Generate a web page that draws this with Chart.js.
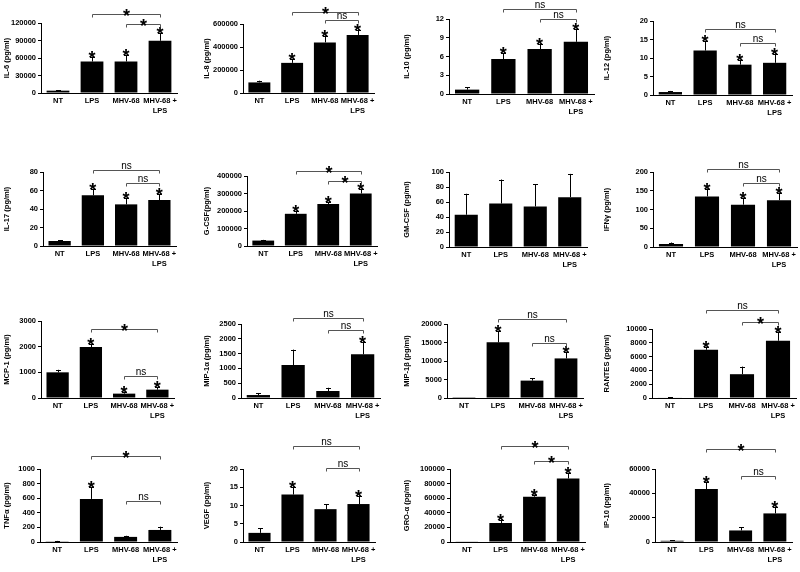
<!DOCTYPE html>
<html>
<head>
<meta charset="utf-8">
<script src="https://cdn.jsdelivr.net/npm/chart.js@4.4.1/dist/chart.umd.min.js"></script>
<style>
  html, body { margin: 0; padding: 0; background: #fff; }
  #grid { position: relative; width: 800px; height: 572px; background: #fff; }
  .cell { position: absolute; width: 200px; height: 143px; }
</style>
</head>
<body>
<div id="grid"></div>
<script>
// Groups on the x axis
const categories = ['NT', 'LPS', 'MHV-68', ['MHV-68 +', 'LPS']];

// Mean and error (pg/ml) per cytokine, order: NT, LPS, MHV-68, MHV-68 + LPS
const il6 = [4000, 54000, 54000, 89500],        il6Err = [1000, 8500, 11000, 13000];
const il8 = [92000, 262000, 440000, 505000],    il8Err = [15000, 32000, 60000, 45000];
const il10 = [0.7, 5.6, 7.2, 8.35],             il10Err = [0.35, 0.9, 0.8, 2.0];
const il12 = [0.8, 12.0, 8.2, 8.7],             il12Err = [0.3, 2.5, 1.3, 2.5];
const il17 = [5.4, 54.8, 45, 49.7],             il17Err = [0.8, 7, 7, 6];
const gcsf = [31000, 184000, 240000, 300000],   gcsfErr = [4000, 17000, 12000, 23000];
const gmcsf = [43, 58, 54, 66.5],               gmcsfErr = [28, 32, 30, 31];
const ifng = [8, 135, 113, 125],                ifngErr = [4, 21, 18, 20];
const mcp1 = [1000, 1987, 170, 325],            mcp1Err = [100, 117, 80, 90];
const mip1a = [100, 1115, 236, 1475],           mip1aErr = [70, 520, 110, 430];
const mip1b = [50, 15050, 4700, 10700],         mip1bErr = [0, 3000, 630, 1600];
const rantes = [80, 6990, 3450, 8300],          rantesErr = [30, 430, 1100, 1300];
const tnfa = [10, 590, 70, 165],                tnfaErr = [5, 165, 15, 45];
const vegf = [2.5, 13, 9, 10.4],                vegfErr = [1.2, 2, 1.3, 2.3];
const groa = [500, 26000, 62000, 87000],        groaErr = [0, 4000, 3000, 7000];
const ip10 = [1000, 43500, 9500, 23500],        ip10Err = [300, 6000, 2500, 5000];

// Y axis titles and ranges
const titles = ['IL-6 (pg/ml)', 'IL-8 (pg/ml)', 'IL-10 (pg/ml)', 'IL-12 (pg/ml)',
                'IL-17 (pg/ml)', 'G-CSF(pg/ml)', 'GM-CSF (pg/ml)', 'IFNγ (pg/ml)',
                'MCP-1 (pg/ml)', 'MIP-1α (pg/ml)', 'MIP-1β (pg/ml)', 'RANTES (pg/ml)',
                'TNFα (pg/ml)', 'VEGF (pg/ml)', 'GRO-α (pg/ml)', 'IP-10 (pg/ml)'];
const yMax  = [120000, 600000, 12, 20, 80, 400000, 100, 200, 3000, 2500, 20000, 10000, 1000, 20, 100000, 60000];
const yStep = [30000, 200000, 3, 5, 20, 100000, 20, 50, 1000, 500, 5000, 2000, 200, 5, 20000, 20000];

// Asterisk over bar (vs NT), per group
const stars = [
  [0, 1, 1, 1], [0, 1, 1, 1], [0, 1, 1, 1], [0, 1, 1, 1],
  [0, 1, 1, 1], [0, 1, 1, 1], [0, 0, 0, 0], [0, 1, 1, 1],
  [0, 1, 1, 1], [0, 0, 0, 1], [0, 1, 0, 1], [0, 1, 0, 1],
  [0, 1, 0, 0], [0, 1, 0, 1], [0, 1, 1, 1], [0, 1, 0, 1]
];

// Comparison brackets: [label, from group, to group]
const comparisons = [
  [['*', 1, 3], ['*', 2, 3]], [['*', 1, 3], ['ns', 2, 3]], [['ns', 1, 3], ['ns', 2, 3]], [['ns', 1, 3], ['ns', 2, 3]],
  [['ns', 1, 3], ['ns', 2, 3]], [['*', 1, 3], ['*', 2, 3]], [], [['ns', 1, 3], ['ns', 2, 3]],
  [['*', 1, 3], ['ns', 2, 3]], [['ns', 1, 3], ['ns', 2, 3]], [['ns', 1, 3], ['ns', 2, 3]], [['ns', 1, 3], ['*', 2, 3]],
  [['*', 1, 3], ['ns', 2, 3]], [['ns', 1, 3], ['ns', 2, 3]], [['*', 1, 3], ['*', 2, 3]], [['*', 1, 3], ['ns', 2, 3]]
];

const means = [il6, il8, il10, il12, il17, gcsf, gmcsf, ifng, mcp1, mip1a, mip1b, rantes, tnfa, vegf, groa, ip10];
const errs = [il6Err, il8Err, il10Err, il12Err, il17Err, gcsfErr, gmcsfErr, ifngErr,
              mcp1Err, mip1aErr, mip1bErr, rantesErr, tnfaErr, vegfErr, groaErr, ip10Err];

// Plot box inside each 200x143 cell: left, top, bottom, right (px) + bracket heights (px)
const boxes = [
  [41, 23, 93, 177, [14, 24]], [43, 24, 93, 174, [12, 20]], [49, 19, 94, 194, [9, 19]], [53, 21, 95, 192, [29, 43]],
  [43, 29, 103, 176, [27, 40]], [47, 33, 103, 177, [28, 38]], [49, 29, 104, 187, []], [53, 29, 104, 197, [26, 40]],
  [41, 35, 112, 174, [43, 90]], [41, 38, 112, 180, [32, 44]], [47, 38, 112, 183, [33, 57]], [52, 43, 112, 196, [24, 36]],
  [40, 40, 113, 177, [27, 72]], [43, 40, 113, 175, [17, 39]], [50, 40, 113, 185, [17, 32]], [55, 40, 113, 192, [20, 47]]
];

const FONT = '"Liberation Sans", Arial, sans-serif';

const sigMarks = {
    id: 'sigMarks',
    afterDatasetsDraw: function(chart, args, opts) {
        const ctx = chart.ctx;
        const yScale = chart.scales.y;
        const bars = chart.getDatasetMeta(0).data;
        ctx.save();
        ctx.strokeStyle = '#000';
        ctx.fillStyle = '#000';
        ctx.lineWidth = 1;
        ctx.textAlign = 'center';
        ctx.textBaseline = 'alphabetic';
        bars.forEach((bar, i) => {
            const v = opts.mean[i], e = opts.err[i];
            const x = Math.round(bar.x) + 0.5;
            const top = yScale.getPixelForValue(v + e);
            if (e > 0) {
                ctx.beginPath();
                ctx.moveTo(x, bar.y);
                ctx.lineTo(x, top);
                ctx.moveTo(x - 2.5, Math.round(top) + 0.5);
                ctx.lineTo(x + 2.5, Math.round(top) + 0.5);
                ctx.stroke();
            }
            if (opts.stars[i]) {
                ctx.font = 'bold 18px ' + FONT;
                ctx.fillText('*', bar.x, top + 7);
            }
        });
        // brackets
        ctx.strokeStyle = '#555';
        opts.brackets.forEach((b, k) => {
            const yb = Math.round(opts.levels[k]) + 0.5;
            const x1 = Math.round(bars[b[1]].x) + 0.5;
            const x2 = Math.round(bars[b[2]].x) + 0.5;
            ctx.beginPath();
            ctx.moveTo(x1, yb + 3);
            ctx.lineTo(x1, yb);
            ctx.lineTo(x2, yb);
            ctx.lineTo(x2, yb + 3);
            ctx.stroke();
            if (b[0] === '*') {
                ctx.font = 'bold 18px ' + FONT;
                ctx.fillText('*', (x1 + x2) / 2, yb + 7);
            } else {
                ctx.font = '10px ' + FONT;
                ctx.fillText(b[0], (x1 + x2) / 2, yb - 2);
            }
        });
        ctx.restore();
    }
};

const grid = document.getElementById('grid');
const rowTop = [0, 143, 286, 429];

titles.forEach((title, p) => {
    const box = boxes[p];
    const cell = document.createElement('div');
    cell.className = 'cell';
    cell.style.left = (p % 4) * 200 + 'px';
    cell.style.top = rowTop[Math.floor(p / 4)] + 'px';
    const canvas = document.createElement('canvas');
    canvas.width = 200;
    canvas.height = 143;
    cell.appendChild(canvas);
    grid.appendChild(cell);

    const tickFont = { family: FONT, size: 7.5, weight: 'bold' };

    new Chart(canvas.getContext('2d'), {
        type: 'bar',
        data: {
            labels: categories,
            datasets: [{
                data: means[p],
                backgroundColor: '#000',
                borderWidth: 0,
                barPercentage: 0.67,
                categoryPercentage: 1
            }]
        },
        options: {
            responsive: false,
            animation: false,
            layout: { padding: { top: box[1], right: 200 - box[3], left: 0, bottom: 0 } },
            plugins: {
                legend: { display: false },
                tooltip: { enabled: false },
                sigMarks: {
                    mean: means[p],
                    err: errs[p],
                    stars: stars[p],
                    brackets: comparisons[p],
                    levels: box[4]
                }
            },
            scales: {
                x: {
                    grid: { display: false, drawTicks: false },
                    border: { color: '#000', width: 1 },
                    ticks: {
                        color: '#000',
                        font: { family: FONT, size: 7.5, weight: 'bold', lineHeight: 1.3 },
                        maxRotation: 0,
                        autoSkip: false,
                        padding: 3
                    },
                    afterFit: function(s) { s.height = 143 - box[2]; }
                },
                y: {
                    min: 0,
                    max: yMax[p],
                    ticks: {
                        stepSize: yStep[p],
                        color: '#000',
                        font: tickFont,
                        padding: 2,
                        callback: function(v) { return String(v); }
                    },
                    grid: { drawOnChartArea: false, tickLength: 3, color: '#000' },
                    border: { color: '#000', width: 1 },
                    title: {
                        display: true,
                        text: title,
                        color: '#000',
                        font: { family: FONT, size: 7.5, weight: 'bold' },
                        padding: { top: 2, bottom: 0 }
                    },
                    afterFit: function(s) { s.width = box[0]; }
                }
            }
        },
        plugins: [sigMarks]
    });
});
</script>
</body>
</html>
